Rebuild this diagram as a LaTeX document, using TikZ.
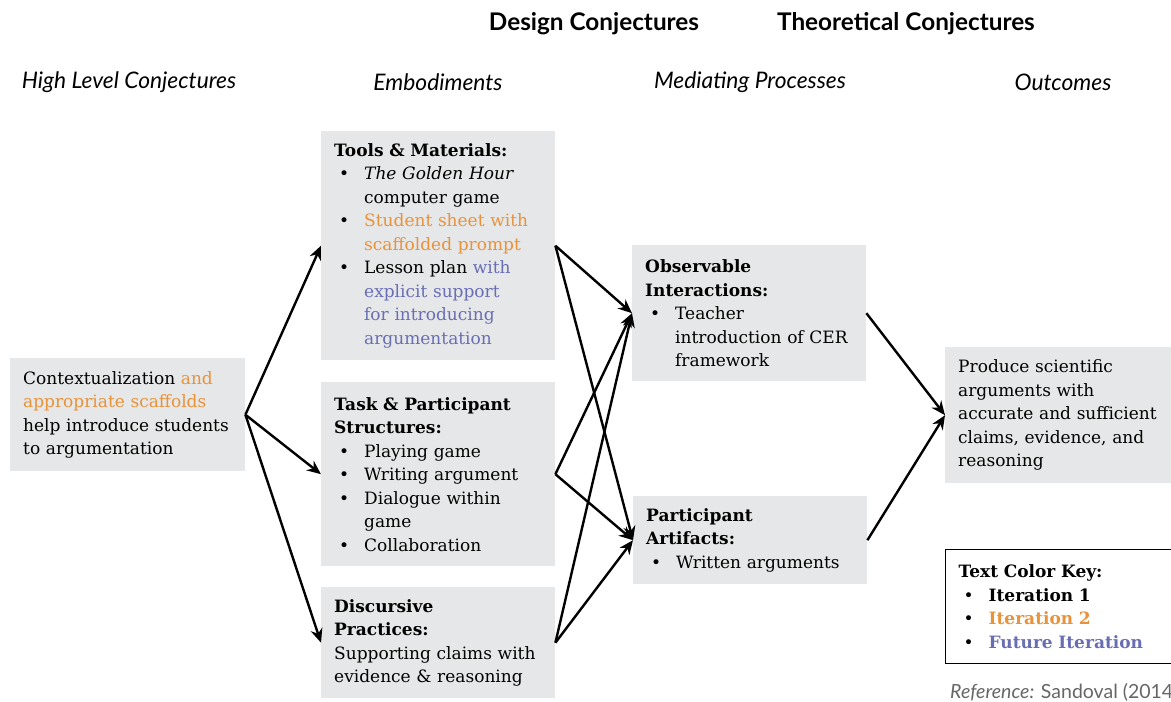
\documentclass[tikz,border=0pt]{standalone}
\usepackage{fontspec}
\setmainfont{DejaVu Serif}
\newfontfamily\headfont{Lato}
\usetikzlibrary{arrows.meta,positioning}
\definecolor{boxgray}{RGB}{230,231,232}
\definecolor{itertwo}{RGB}{232,146,58}
\definecolor{iterfut}{RGB}{105,110,180}
\tikzstyle{conj} = [rectangle, fill=boxgray, inner xsep=13pt, inner ysep=4pt, align=left, anchor=north west, font=\fontsize{17}{23.5}\selectfont]
\tikzstyle{arrow} = [line width=2.4pt, -{Stealth[length=14pt,width=12pt]}]
\tikzstyle{colhead} = [font=\headfont\itshape\fontsize{22.8}{26}\selectfont]
\tikzstyle{grouphead} = [font=\headfont\bfseries\fontsize{24.3}{28}\selectfont]
\newcommand{\bitem}[1]{\par\noindent\hangindent=30pt\hangafter=1\makebox[30pt][l]{\hspace{5pt}\textbullet}#1\par}

\begin{document}
\begin{tikzpicture}[x=1pt, y=-1pt]
\useasboundingbox (0,0) rectangle (1171,702);

% headings
\node (design) [grouphead] at (594,24) {Design Conjectures};
\node (theory) [grouphead] at (906,24) {Theoretical Conjectures};
\node (hlhead) [colhead] at (129,82) {High Level Conjectures};
\node (emhead) [colhead] at (438,82) {Embodiments};
\node (mphead) [colhead] at (750,82) {Mediating Processes};
\node (ouhead) [colhead] at (1063,82) {Outcomes};

% boxes
\node (hl) [conj, text width=209pt, minimum height=113pt] at (10,358) {Contextualization \textcolor{itertwo}{and}\\ \textcolor{itertwo}{appropriate scaffolds}\\ help introduce students\\ to argumentation};
\node (tools) [conj, text width=208pt, minimum height=229pt] at (321,131) {\textbf{Tools \& Materials:}
  \bitem{\textit{The Golden Hour}\newline computer game}
  \bitem{\textcolor{itertwo}{Student sheet with\newline scaffolded prompt}}
  \bitem{Lesson plan \textcolor{iterfut}{with\newline explicit support\newline for introducing\newline argumentation}}};
\node (task) [conj, text width=208pt, minimum height=184pt] at (321,382) {\textbf{Task \& Participant}\\ \textbf{Structures:}
  \bitem{Playing game}
  \bitem{Writing argument}
  \bitem{Dialogue within\newline game}
  \bitem{Collaboration}};
\node (disc) [conj, text width=208pt, minimum height=111pt] at (321,587) {\textbf{Discursive}\\ \textbf{Practices:}\\ Supporting claims with\\ evidence \& reasoning};
\node (obs) [conj, text width=208pt, minimum height=136pt] at (632,245) {\textbf{Observable}\\ \textbf{Interactions:}
  \bitem{Teacher\newline introduction of CER\newline framework}};
\node (art) [conj, text width=208pt, minimum height=88pt] at (633,496) {\textbf{Participant}\\ \textbf{Artifacts:}
  \bitem{Written arguments}};
\node (out) [conj, text width=215pt, minimum height=136pt] at (945,347) {Produce scientific\\ arguments with\\ accurate and sufficient\\ claims, evidence, and\\ reasoning};
\node (key) [conj, draw=black, line width=1.3pt, fill=white, text width=215pt, minimum height=114pt] at (945,549) {\textbf{Text Color Key:}
  \bitem{\textbf{Iteration 1}}
  \bitem{\textbf{\textcolor{itertwo}{Iteration 2}}}
  \bitem{\textbf{\textcolor{iterfut}{Future Iteration}}}};
\node (ref) [anchor=base west, text=black!60, font=\headfont\fontsize{19.5}{22}\selectfont, inner sep=0pt] at (950,698) {\textit{Reference:} Sandoval (2014)};

% connectors
\draw[arrow] (hl.east) -- (tools.west);
\draw[arrow] (hl.east) -- (task.west);
\draw[arrow] (hl.east) -- (disc.west);
\draw[arrow] (tools.east) -- (obs.west);
\draw[arrow] (tools.east) -- (art.west);
\draw[arrow] (task.east) -- (obs.west);
\draw[arrow] (task.east) -- (art.west);
\draw[arrow] (disc.east) -- (obs.west);
\draw[arrow] (disc.east) -- (art.west);
\draw[arrow] (obs.east) -- (out.west);
\draw[arrow] (art.east) -- (out.west);
\end{tikzpicture}
\end{document}
